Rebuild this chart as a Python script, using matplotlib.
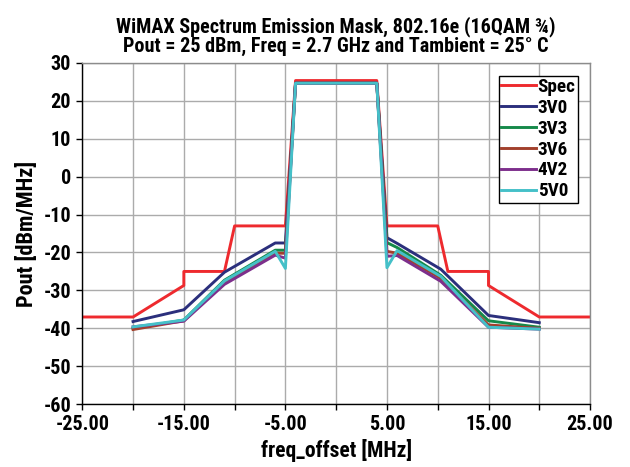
import matplotlib
matplotlib.use("Agg")
import matplotlib.pyplot as plt
import numpy as np

plt.rcParams['font.family'] = ['Roboto Condensed', 'Liberation Sans Narrow', 'Roboto', 'DejaVu Sans']
plt.rcParams['font.weight'] = 'heavy'
plt.rcParams['axes.unicode_minus'] = False

# spectrum mask (spec)
spec_x = [-25, -20, -15, -15, -11, -10, -5, -4, 4, 5, 10, 11, 15, 15, 20, 25]
spec_y = [-37, -37, -28.7, -25, -25, -13, -13, 25.3, 25.3, -13, -13, -25, -25, -28.7, -37, -37]

# measured offsets [MHz]
meas_x = [-20, -15, -11, -6, -5, -4, 4, 5, 6, 10.3, 15, 20]

v3v0 = [-38.2, -35.1, -25.2, -17.5, -17.5, 24.6, 24.6, -16.1, -17.6, -24.4, -36.6, -38.5]
v3v3 = [-40.0, -37.8, -27.3, -19.4, -19.4, 24.6, 24.6, -17.4, -18.7, -26.0, -38.0, -39.7]
v3v6 = [-40.3, -38.0, -27.8, -20.2, -20.2, 24.6, 24.6, -19.7, -20.2, -26.8, -39.1, -40.0]
v4v2 = [-39.6, -38.1, -28.4, -20.7, -21.5, 24.6, 24.6, -21.0, -20.8, -27.6, -39.7, -40.2]
v5v0 = [-39.6, -37.8, -27.5, -19.7, -24.2, 24.6, 24.6, -24.0, -19.5, -26.3, -39.7, -40.2]

series = [("3V0", v3v0, "#2b2f7c"),
          ("3V3", v3v3, "#15894a"),
          ("3V6", v3v6, "#a2402c"),
          ("4V2", v4v2, "#7d2f8c"),
          ("5V0", v5v0, "#45c0c8")]

xtick_major = [-25, -15, -5, 5, 15, 25]
xtick_minor = [-20, -10, 0, 10, 20]
ytick_vals = list(range(-60, 31, 10))

fig = plt.figure(figsize=(6.3, 4.67), dpi=100)
ax = fig.add_axes([0.1306, 0.1343, 0.806, 0.7314])

ax.plot(spec_x, spec_y, color="#ee2a2e", lw=2.1, label="Spec")
for name, vals, col in series:
    ax.plot(meas_x, vals, color=col, lw=2.1, label=name)

ax.set_xlim(-25, 25)
ax.set_ylim(-60, 30)
ax.set_xticks(xtick_major)
ax.set_xticklabels([f"{v:.2f}" for v in xtick_major])
ax.set_xticks(xtick_minor, minor=True)
ax.set_yticks(ytick_vals)
ax.set_yticklabels([str(v) for v in ytick_vals])

ax.grid(True, which='both', axis='x', color='#ababab', lw=1.0)
ax.grid(True, which='major', axis='y', color='#ababab', lw=1.0)
ax.set_axisbelow(True)

ax.tick_params(axis='both', which='both', direction='out', length=4, width=1,
               labelsize=14.5)
ax.tick_params(axis='x', which='major', pad=4)
ax.tick_params(axis='y', which='major', pad=4)
for s in ['left', 'bottom']:
    ax.spines[s].set_color('black')
    ax.spines[s].set_linewidth(1.0)
for s in ['top', 'right']:
    ax.spines[s].set_color('#8c8c8c')
    ax.spines[s].set_linewidth(1.0)

ax.set_xlabel("freq_offset [MHz]", fontsize=15.5, fontweight='heavy', labelpad=3)
ax.set_ylabel("Pout [dBm/MHz]", fontsize=16, fontweight='heavy', labelpad=4)
ax.set_title("WiMAX Spectrum Emission Mask, 802.16e (16QAM ¾)\n"
             "Pout = 25 dBm, Freq = 2.7 GHz and Tambient = 25° C",
             fontsize=14.5, fontweight='heavy', linespacing=1.0, pad=8)

leg = ax.legend(loc='upper right', bbox_to_anchor=(0.976, 0.962), borderaxespad=0,
                fancybox=False, edgecolor='black', framealpha=1, fontsize=13.8,
                handlelength=1.8, handletextpad=0.1, labelspacing=0.15,
                borderpad=0.12)
leg.get_frame().set_linewidth(1.0)

fig.savefig("out.png", dpi=100)
